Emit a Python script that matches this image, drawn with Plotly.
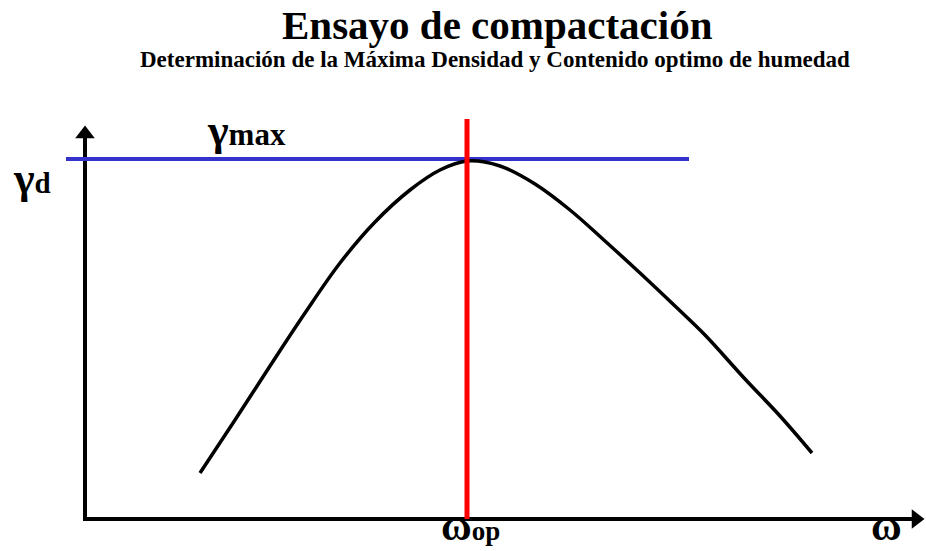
import plotly.graph_objects as go

# Curva de compactación (humedad w vs densidad seca gamma_d), unidades arbitrarias
w_curve = [115, 150, 185, 220, 255, 290, 325, 355, 382,
           415, 450, 485, 520, 555, 590, 620, 660, 695, 727]
gd_curve = [46, 99, 153, 206, 256, 297, 329, 349, 358,
            353, 335, 309, 278, 246, 213, 184, 140, 103, 66]

# Valores característicos
w_op = 382
gamma_max = 360
gamma_max_span = [-19, 604]
w_op_span = [0, 400]

# Ejes con flecha
x_axis_end = 831
y_axis_end = 385

title = "Ensayo de compactación"
subtitle = "Determinación de la Máxima Densidad y Contenido optimo de humedad"

FONT = "Liberation Serif"

fig = go.Figure()

# Eje Y (gamma_d)
fig.add_trace(go.Scatter(x=[0, 0], y=[-2, y_axis_end], mode="lines",
                         line=dict(color="black", width=4), hoverinfo="skip"))
fig.add_trace(go.Scatter(x=[0], y=[y_axis_end], mode="markers",
                         marker=dict(symbol="triangle-up", size=17, color="black"),
                         hoverinfo="skip"))
# Eje X (w)
fig.add_trace(go.Scatter(x=[-2, x_axis_end], y=[0, 0], mode="lines",
                         line=dict(color="black", width=4), hoverinfo="skip"))
fig.add_trace(go.Scatter(x=[x_axis_end], y=[0], mode="markers",
                         marker=dict(symbol="triangle-right", size=17, color="black"),
                         hoverinfo="skip"))

# Línea de densidad máxima
fig.add_trace(go.Scatter(x=gamma_max_span, y=[gamma_max, gamma_max], mode="lines",
                         line=dict(color="#3333cc", width=4), hoverinfo="skip"))

# Curva
fig.add_trace(go.Scatter(x=w_curve, y=gd_curve, mode="lines",
                         line=dict(color="black", width=3.5, shape="spline", smoothing=1.0),
                         hoverinfo="skip"))

# Humedad óptima
fig.add_trace(go.Scatter(x=[w_op, w_op], y=w_op_span, mode="lines",
                         line=dict(color="#ff0000", width=5), hoverinfo="skip"))

def label(x, y, text, size=26, xanchor="left", yanchor="bottom", xref="x", yref="y"):
    fig.add_annotation(x=x, y=y, xref=xref, yref=yref, text=text, showarrow=False,
                       xanchor=xanchor, yanchor=yanchor,
                       font=dict(family=FONT, size=size, color="black", weight="bold"))

label(0.537, 1 - 25 / 551, title, size=41, xanchor="center", yanchor="middle",
      xref="paper", yref="paper")
label(0.535, 1 - 59 / 551, subtitle, size=23, xanchor="center", yanchor="middle",
      xref="paper", yref="paper")

label(120, 362, "<span style='font-size:44px'>γ</span>max", size=31)
label(-74, 314, "<span style='font-size:44px'>γ</span>d", size=29)
label(w_op + 3, 0, "<span style='font-size:42px'>ω</span>op", size=27,
      xanchor="center", yanchor="bottom", yref="paper")
label(801, 0, "ω", size=42, xanchor="center", yanchor="bottom", yref="paper")

fig.update_layout(
    width=926, height=551,
    margin=dict(l=0, r=0, t=0, b=0),
    plot_bgcolor="white", paper_bgcolor="white",
    showlegend=False,
    xaxis=dict(range=[-85, 841], visible=False, fixedrange=True),
    yaxis=dict(range=[-32, 519], visible=False, fixedrange=True),
)

fig.write_html("out.html", config={"displayModeBar": False},
               post_script="document.body.style.margin='0';")
